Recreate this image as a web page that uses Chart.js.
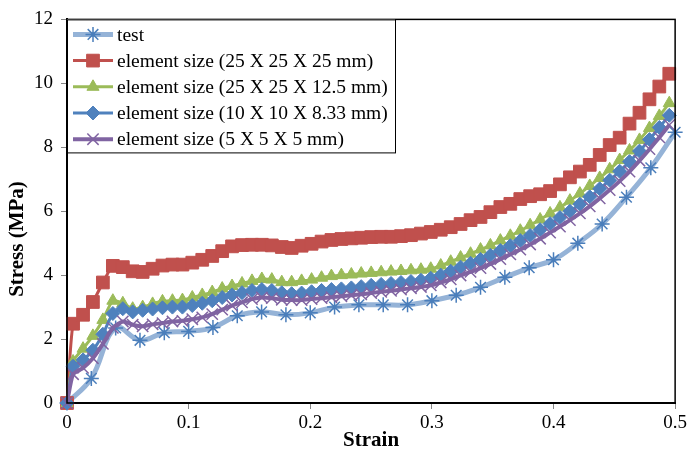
<!DOCTYPE html>
<html>
<head>
<meta charset="utf-8">
<script src="https://cdn.jsdelivr.net/npm/chart.js@4/dist/chart.umd.min.js"></script>
<style>
    html, body { margin: 0; padding: 0; background: #fff; }
</style>
</head>
<body>
<canvas id="graficoTensao" width="690" height="454"></canvas>
<script>
// strain values
const testStrain = [0, 0.02, 0.04, 0.06, 0.08, 0.1, 0.12, 0.14, 0.16, 0.18, 0.2, 0.22, 0.24, 0.26, 0.28, 0.3, 0.32, 0.34, 0.36, 0.38, 0.4, 0.42, 0.44, 0.46, 0.48, 0.5];
const feStrain = [0, 0.005, 0.0132, 0.0213, 0.0295, 0.0377, 0.0459, 0.054, 0.0622, 0.0704, 0.0785,
    0.0867, 0.0949, 0.103, 0.1112, 0.1194, 0.1276, 0.1357, 0.1439, 0.1521, 0.1602,
    0.1684, 0.1766, 0.1847, 0.1929, 0.2011, 0.2093, 0.2174, 0.2256, 0.2338, 0.2419,
    0.2501, 0.2583, 0.2664, 0.2746, 0.2828, 0.291, 0.2991, 0.3073, 0.3155, 0.3236,
    0.3318, 0.34, 0.3481, 0.3563, 0.3645, 0.3727, 0.3808, 0.389, 0.3972, 0.4053,
    0.4135, 0.4217, 0.4298, 0.438, 0.4462, 0.4544, 0.4625, 0.4707, 0.4789, 0.487,
    0.4952];

// stress values (MPa)
const testStress = [0, 0.77, 2.35, 1.96, 2.2, 2.24, 2.36, 2.73, 2.85, 2.76, 2.82, 3.0, 3.07, 3.07, 3.07, 3.2, 3.37, 3.62, 3.93, 4.23, 4.48, 5.0, 5.6, 6.44, 7.36, 8.47];
const stress25 = [0,
    2.48, 2.76, 3.16, 3.77, 4.29, 4.25, 4.12, 4.1, 4.2, 4.3,
    4.33, 4.33, 4.39, 4.48, 4.6, 4.75, 4.9, 4.94, 4.95, 4.95,
    4.93, 4.88, 4.85, 4.92, 4.98, 5.05, 5.1, 5.13, 5.15, 5.17,
    5.19, 5.2, 5.2, 5.22, 5.25, 5.3, 5.35, 5.42, 5.5, 5.6,
    5.72, 5.82, 5.97, 6.13, 6.23, 6.38, 6.47, 6.53, 6.63, 6.84,
    7.06, 7.24, 7.45, 7.76, 8.07, 8.3, 8.74, 9.08, 9.5, 9.9,
    10.3];
const stress125 = [0,
    1.3, 1.7, 2.1, 2.6, 3.2, 3.12, 2.95, 3.0, 3.1, 3.18,
    3.2, 3.22, 3.3, 3.38, 3.47, 3.58, 3.66, 3.74, 3.82, 3.88,
    3.86, 3.78, 3.78, 3.82, 3.86, 3.92, 3.97, 4.0, 4.02, 4.05,
    4.07, 4.09, 4.11, 4.13, 4.15, 4.17, 4.2, 4.3, 4.42, 4.55,
    4.67, 4.8, 4.93, 5.08, 5.23, 5.39, 5.56, 5.74, 5.93, 6.12,
    6.33, 6.55, 6.79, 7.04, 7.31, 7.6, 7.9, 8.23, 8.6, 8.98,
    9.38];
const stress833 = [0,
    1.15, 1.35, 1.65, 2.15, 2.8, 2.95, 2.85, 2.9, 2.94, 2.98,
    3.0, 3.0, 3.05, 3.12, 3.2, 3.3, 3.38, 3.45, 3.52, 3.55,
    3.52, 3.45, 3.42, 3.44, 3.48, 3.52, 3.55, 3.57, 3.6, 3.64,
    3.68, 3.71, 3.74, 3.77, 3.8, 3.84, 3.9, 4.0, 4.12, 4.25,
    4.37, 4.49, 4.62, 4.77, 4.92, 5.08, 5.24, 5.42, 5.61, 5.8,
    6.0, 6.22, 6.45, 6.7, 6.97, 7.25, 7.55, 7.88, 8.24, 8.62,
    9.0];
const stress5 = [0,
    0.9, 1.1, 1.4, 1.85, 2.35, 2.55, 2.45, 2.4, 2.46, 2.5,
    2.55, 2.57, 2.62, 2.68, 2.78, 2.92, 3.05, 3.15, 3.25, 3.3,
    3.28, 3.23, 3.22, 3.22, 3.25, 3.28, 3.31, 3.34, 3.37, 3.4,
    3.44, 3.48, 3.51, 3.55, 3.59, 3.63, 3.68, 3.77, 3.87, 3.99,
    4.1, 4.22, 4.35, 4.5, 4.65, 4.8, 4.96, 5.14, 5.33, 5.52,
    5.72, 5.93, 6.15, 6.4, 6.66, 6.94, 7.24, 7.58, 7.94, 8.31,
    8.7];

const seriesNames = ['test', 'element size (25 X 25 X 25 mm)', 'element size (25 X 25 X 12.5 mm)', 'element size (10 X 10 X 8.33 mm)', 'element size (5 X 5 X 5 mm)'];

const pares = (xs, ys) => xs.map((x, i) => ({ x: x, y: ys[i] }));

Chart.defaults.font.family = '"Liberation Serif", "Times New Roman", serif';
Chart.defaults.color = '#000';

const fonteTick = { size: 19 };

const legendaInterna = {
    id: 'legendaInterna',
    afterDraw(chart) {
        const ctx = chart.ctx;
        const area = chart.chartArea;
        ctx.save();
        // moldura da area do grafico
        ctx.strokeStyle = '#000';
        ctx.lineWidth = 1.5;
        ctx.strokeRect(area.left, area.top, area.right - area.left, area.bottom - area.top);

        // titulo do eixo y (fora do centro, como no original)
        ctx.save();
        ctx.translate(18, 239);
        ctx.rotate(-Math.PI / 2);
        ctx.fillStyle = '#000';
        ctx.font = 'bold 21px "Liberation Serif", serif';
        ctx.textAlign = 'center';
        ctx.textBaseline = 'middle';
        ctx.fillText('Stress (MPa)', 0, 0);
        ctx.restore();

        // legenda
        const lx = area.left, ly = area.top;
        ctx.fillStyle = '#fff';
        ctx.fillRect(lx, ly, 328, 133);
        ctx.strokeStyle = '#000';
        ctx.lineWidth = 1;
        ctx.strokeRect(lx + 0.5, ly + 0.5, 328, 133);

        chart.data.datasets.forEach((ds, i) => {
            const y = ly + 15 + i * 26.2;
            ctx.strokeStyle = ds.borderColor;
            ctx.lineWidth = ds.borderWidth;
            ctx.beginPath();
            ctx.moveTo(lx + 6, y);
            ctx.lineTo(lx + 46, y);
            ctx.stroke();
            ctx.fillStyle = ds.pointBackgroundColor;
            ctx.strokeStyle = ds.pointBorderColor;
            ctx.lineWidth = ds.pointBorderWidth;
            Chart.helpers.drawPoint(ctx, { pointStyle: ds.pointStyle, radius: ds.pointRadius, borderWidth: ds.pointBorderWidth, rotation: 0 }, lx + 26, y);
            ctx.fillStyle = '#000';
            ctx.font = '19.5px "Liberation Serif", serif';
            ctx.textBaseline = 'middle';
            ctx.textAlign = 'left';
            ctx.fillText(ds.label, lx + 50, y + 1);
        });
        ctx.restore();
    }
};

const ctx = document.getElementById('graficoTensao').getContext('2d');
new Chart(ctx, {
    type: 'line',
    data: {
        datasets: [{
            label: seriesNames[0],
            data: pares(testStrain, testStress),
            borderColor: '#95B3D7',
            borderWidth: 5,
            tension: 0.4,
            pointStyle: 'star',
            pointRadius: 7.5,
            pointBackgroundColor: '#4A7EBB',
            pointBorderColor: '#4A7EBB',
            pointBorderWidth: 1.5,
            order: 4,
            clip: false
        }, {
            label: seriesNames[1],
            data: pares(feStrain, stress25),
            borderColor: '#C0504D',
            borderWidth: 3,
            tension: 0.2,
            pointStyle: 'rect',
            pointRadius: 9,
            pointBackgroundColor: '#C0504D',
            pointBorderColor: '#C0504D',
            pointBorderWidth: 1,
            order: 3,
            clip: false
        }, {
            label: seriesNames[2],
            data: pares(feStrain, stress125),
            borderColor: '#9BBB59',
            borderWidth: 3,
            tension: 0.2,
            pointStyle: 'triangle',
            pointRadius: 7,
            pointBackgroundColor: '#9BBB59',
            pointBorderColor: '#9BBB59',
            pointBorderWidth: 1,
            order: 2,
            clip: false
        }, {
            label: seriesNames[3],
            data: pares(feStrain, stress833),
            borderColor: '#4F81BD',
            borderWidth: 3,
            tension: 0.2,
            pointStyle: 'rectRot',
            pointRadius: 7,
            pointBackgroundColor: '#4F81BD',
            pointBorderColor: '#4F81BD',
            pointBorderWidth: 1,
            order: 1,
            clip: false
        }, {
            label: seriesNames[4],
            data: pares(feStrain, stress5),
            borderColor: '#8064A2',
            borderWidth: 4,
            tension: 0.2,
            pointStyle: 'crossRot',
            pointRadius: 8,
            pointBackgroundColor: '#8064A2',
            pointBorderColor: '#8064A2',
            pointBorderWidth: 1.5,
            order: 0,
            clip: false
        }]
    },
    options: {
        responsive: false,
        animation: false,
        layout: { padding: { left: 0, right: 12, top: 12, bottom: 0 } },
        plugins: {
            legend: { display: false },
            tooltip: { enabled: false }
        },
        scales: {
            x: {
                type: 'linear',
                min: 0,
                max: 0.5,
                ticks: {
                    stepSize: 0.1,
                    font: fonteTick,
                    padding: 3,
                    maxRotation: 0,
                    callback: v => String(Number(v.toFixed(1)))
                },
                grid: { drawOnChartArea: false, tickLength: 6, color: '#868686' },
                border: { color: '#000', width: 2 },
                title: { display: true, text: 'Strain', font: { size: 21, weight: 'bold' }, padding: { top: 0, bottom: 1 } },
                afterFit: s => { s.height = 51; }
            },
            y: {
                min: 0,
                max: 12,
                ticks: { stepSize: 2, font: fonteTick, padding: 8 },
                grid: { drawOnChartArea: false, tickLength: 6, color: '#868686' },
                border: { color: '#000', width: 2 },
                afterFit: s => { s.width = 67; }
            }
        }
    },
    plugins: [legendaInterna]
});
</script>
</body>
</html>
